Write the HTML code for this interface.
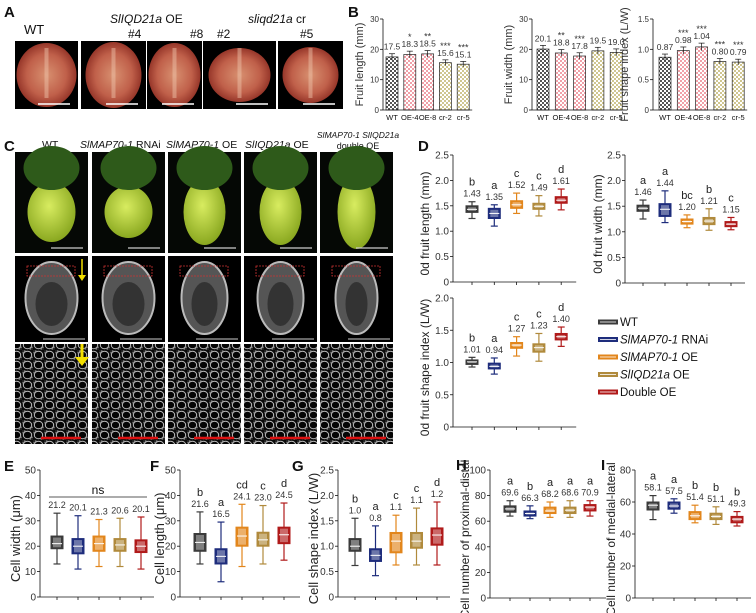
<!DOCTYPE html>
<html><head><meta charset="utf-8"><style>
html,body{margin:0;padding:0;background:#fff;}
svg{display:block;font-family:"Liberation Sans",sans-serif;}
</style></head><body>
<svg id="fig" width="756" height="613" viewBox="0 0 756 613" xmlns="http://www.w3.org/2000/svg">
<defs>
<pattern id="chkGray" width="4" height="4" patternUnits="userSpaceOnUse"><rect width="4" height="4" fill="#fff"/><rect width="2" height="2" fill="#555"/><rect x="2" y="2" width="2" height="2" fill="#555"/></pattern>
<pattern id="chkPink" width="4" height="4" patternUnits="userSpaceOnUse"><rect width="4" height="4" fill="#fff"/><rect width="2" height="2" fill="#f0a0a8"/><rect x="2" y="2" width="2" height="2" fill="#f0a0a8"/></pattern>
<pattern id="chkKhaki" width="4" height="4" patternUnits="userSpaceOnUse"><rect width="4" height="4" fill="#fff"/><rect width="2" height="2" fill="#cfc690"/><rect x="2" y="2" width="2" height="2" fill="#cfc690"/></pattern>
<radialGradient id="tom" cx="50%" cy="50%" r="55%"><stop offset="0" stop-color="#d89070"/><stop offset="0.6" stop-color="#c0604a"/><stop offset="1" stop-color="#8a2a20"/></radialGradient>
<radialGradient id="ovary" cx="45%" cy="40%" r="60%"><stop offset="0" stop-color="#d8ec60"/><stop offset="1" stop-color="#8aa820"/></radialGradient>
<pattern id="cells" width="11" height="10" patternUnits="userSpaceOnUse"><rect width="11" height="10" fill="#0a0a0a"/><ellipse cx="5.5" cy="5" rx="4.2" ry="3.8" fill="#050505" stroke="#bbb" stroke-width="1"/><ellipse cx="0" cy="0" rx="3" ry="3" fill="#222" stroke="#999" stroke-width="0.8"/><ellipse cx="11" cy="10" rx="3" ry="3" fill="#222" stroke="#999" stroke-width="0.8"/></pattern>
</defs>
<g id="root"></g>
</svg>
<script>
// ---------- Panel B data ----------
const bCats = ['WT','OE-4','OE-8','cr-2','cr-5'];
const bLength = [17.5, 18.3, 18.5, 15.6, 15.1];
const bLengthStars = ['', '*', '**', '***', '***'];
const bWidth = [20.1, 18.8, 17.8, 19.5, 19.0];
const bWidthStars = ['', '**', '***', '', ''];
const bShape = [0.87, 0.98, 1.04, 0.80, 0.79];
const bShapeStars = ['', '***', '***', '***', '***'];
const bTicks30 = [0, 10, 20, 30];
const bTicksShape = [0, 0.5, 1.0, 1.5];

// ---------- Box-plot data ----------
const groups = ['WT', 'SlMAP70-1 RNAi', 'SlMAP70-1 OE', 'SlIQD21a OE', 'Double OE'];
const d1Min = [1.25, 1.10, 1.35, 1.30, 1.42];
const d1Q1 = [1.37, 1.25, 1.45, 1.43, 1.55];
const d1Med = [1.43, 1.35, 1.52, 1.49, 1.61];
const d1Q3 = [1.50, 1.45, 1.60, 1.55, 1.68];
const d1Max = [1.58, 1.52, 1.75, 1.70, 1.83];
const d1Mean = ['1.43', '1.35', '1.52', '1.49', '1.61'];
const d1Let = ['b', 'a', 'c', 'c', 'd'];
const d2Min = [1.25, 1.18, 1.08, 1.03, 1.04];
const d2Q1 = [1.40, 1.30, 1.15, 1.14, 1.10];
const d2Med = [1.46, 1.44, 1.20, 1.21, 1.15];
const d2Q3 = [1.52, 1.55, 1.25, 1.28, 1.20];
const d2Max = [1.62, 1.80, 1.33, 1.45, 1.28];
const d2Mean = ['1.46', '1.44', '1.20', '1.21', '1.15'];
const d2Let = ['a', 'a', 'bc', 'b', 'c'];
const d3Min = [0.93, 0.82, 1.10, 1.02, 1.25];
const d3Q1 = [0.97, 0.90, 1.22, 1.16, 1.35];
const d3Med = [1.01, 0.94, 1.27, 1.23, 1.40];
const d3Q3 = [1.04, 0.99, 1.31, 1.29, 1.45];
const d3Max = [1.08, 1.07, 1.40, 1.45, 1.55];
const d3Mean = ['1.01', '0.94', '1.27', '1.23', '1.40'];
const d3Let = ['b', 'a', 'c', 'c', 'd'];
const eMin = [13, 11, 12, 12, 11];
const eQ1 = [19, 17, 18, 18, 17.5];
const eMed = [21, 20, 21, 20.5, 20];
const eQ3 = [24, 23, 24, 23, 22.5];
const eMax = [33, 32, 30.5, 31, 31.5];
const eMean = ['21.2', '20.1', '21.3', '20.6', '20.1'];
const eLet = ['', '', '', '', ''];
const fMin = [13, 6, 12, 13, 14.5];
const fQ1 = [18, 13, 20, 20, 21];
const fMed = [21.5, 16, 24, 22.5, 24.5];
const fQ3 = [25, 19, 27.5, 25.5, 27.5];
const fMax = [33.5, 29.5, 36.5, 36, 37];
const fMean = ['21.6', '16.5', '24.1', '23.0', '24.5'];
const fLet = ['b', 'a', 'cd', 'c', 'd'];
const gMin = [0.62, 0.42, 0.63, 0.63, 0.63];
const gQ1 = [0.90, 0.70, 0.87, 0.96, 1.02];
const gMed = [1.00, 0.82, 1.10, 1.10, 1.22];
const gQ3 = [1.15, 0.95, 1.27, 1.27, 1.36];
const gMax = [1.55, 1.40, 1.61, 1.75, 1.87];
const gMean = ['1.0', '0.8', '1.1', '1.1', '1.2'];
const gLet = ['b', 'a', 'c', 'c', 'd'];
const hMin = [64, 62, 63, 63, 64];
const hQ1 = [67, 64, 66, 66, 68];
const hMed = [69.6, 66, 68, 68.6, 71];
const hQ3 = [72, 68, 71, 71, 73];
const hMax = [76, 72, 75, 76, 76];
const hMean = ['69.6', '66.3', '68.2', '68.6', '70.9'];
const hLet = ['a', 'b', 'a', 'a', 'a'];
const iMin = [49, 53, 47, 46, 45];
const iQ1 = [55, 55.5, 49, 49, 47];
const iMed = [58, 57.5, 51.4, 51, 49.3];
const iQ3 = [60, 60, 54, 53, 51];
const iMax = [64, 62, 58, 57, 54];
const iMean = ['58.1', '57.5', '51.4', '51.1', '49.3'];
const iLet = ['a', 'a', 'b', 'b', 'b'];

const tick25 = [0, 0.5, 1.0, 1.5, 2.0, 2.5];
const tick20 = [0, 0.5, 1.0, 1.5, 2.0];
const tick50 = [0, 10, 20, 30, 40, 50];
const tick100 = [0, 20, 40, 60, 80, 100];
const tick80 = [0, 20, 40, 60, 80];

const NS = 'http://www.w3.org/2000/svg';
const root = document.getElementById('root');
const COLORS = ['#3b3b3b', '#1e2d7c', '#e2861c', '#b08a3c', '#b01a1a'];

function el(tag, attrs, parent, text) {
  const e = document.createElementNS(NS, tag);
  for (const k in attrs) e.setAttribute(k, attrs[k]);
  if (text !== undefined) e.textContent = text;
  (parent || root).appendChild(e);
  return e;
}
function txt(x, y, s, size, opts, parent) {
  const a = Object.assign({x: x, y: y, 'font-size': size, fill: '#111'}, opts || {});
  return el('text', a, parent, s);
}
function fmt(v) { return Number.isInteger(v) ? String(v) : v.toFixed(1); }

// ---------- panel A ----------
const A = el('g', {});


txt(4, 17, 'A', 15, {'font-weight': 'bold'}, A);
txt(24, 34, 'WT', 13, {}, A);
const aT1 = el('text', {x: 110, y: 23, 'font-size': 12, fill: '#111'}, A);
el('tspan', {'font-style': 'italic'}, aT1, 'SlIQD21a');
el('tspan', {}, aT1, ' OE');
txt(128, 38, '#4', 12, {}, A);
txt(190, 38, '#8', 12, {}, A);
const aT2 = el('text', {x: 248, y: 23, 'font-size': 12, fill: '#111'}, A);
el('tspan', {'font-style': 'italic'}, aT2, 'sliqd21a');
el('tspan', {}, aT2, '  cr');
txt(217, 38, '#2', 12, {}, A);
txt(300, 38, '#5', 12, {}, A);
const aBoxes = [[15, 63, 30, 32], [81, 65, 28, 33], [147, 55, 26, 32], [203, 73, 31, 27], [278, 65, 28, 28]];
aBoxes.forEach(function (b, i) {
  const g = el('g', {}, A);
  
  
  el('rect', {x: b[0], y: 41, width: b[1], height: 68, fill: '#000'}, g);
  el('ellipse', {cx: b[0] + b[1] / 2, cy: 75, rx: b[2], ry: b[3], fill: 'url(#tom)'}, g);
  el('rect', {x: b[0] + b[1] / 2 - 2, y: 48, width: 4, height: 50, fill: '#f0c8b0', opacity: 0.45}, g);
  el('line', {x1: b[0] + b[1] - 40, y1: 104, x2: b[0] + b[1] - 8, y2: 104, stroke: '#fff', 'stroke-width': 1.5}, g);
});

// ---------- panel C ----------
const C = el('g', {});


txt(4, 151, 'C', 15, {'font-weight': 'bold'}, C);
txt(42, 148, 'WT', 10.5, {}, C);
const cLab = [[80, 'SlMAP70-1', ' RNAi'], [166, 'SlMAP70-1', ' OE'], [245, 'SlIQD21a', ' OE']];
cLab.forEach(function (l) {
  const t = el('text', {x: l[0], y: 148, 'font-size': 10.5, fill: '#111'}, C);
  el('tspan', {'font-style': 'italic'}, t, l[1]);
  el('tspan', {}, t, l[2]);
});
txt(358, 138, 'SlMAP70-1 SlIQD21a', 8.5, {'font-style': 'italic', 'text-anchor': 'middle'}, C);
txt(358, 149, 'double OE', 9, {'text-anchor': 'middle'}, C);
const cCols = [15, 92, 168, 244, 320];
const cShapes = [[24, 30, 12], [24, 26, 6], [21, 33, 8], [21, 33, 8], [19, 37, 8]];
cCols.forEach(function (x, i) {
  const g = el('g', {}, C);
  
  
  const cx = x + 36.5, s = cShapes[i];
  el('rect', {x: x, y: 152, width: 73, height: 101, fill: '#050805'}, g);
  el('ellipse', {cx: cx, cy: 212, rx: s[0], ry: s[1], fill: 'url(#ovary)'}, g);
  el('ellipse', {cx: cx, cy: 168, rx: 28, ry: 22, fill: '#2e5a1a'}, g);
  el('line', {x1: x + 36, y1: 248, x2: x + 68, y2: 248, stroke: '#ccc', 'stroke-width': 1.3}, g);
  el('rect', {x: x, y: 256, width: 73, height: 86, fill: '#000'}, g);
  el('ellipse', {cx: cx, cy: 298, rx: s[0] + 2, ry: 36, fill: '#555', stroke: '#bbb', 'stroke-width': 2}, g);
  el('ellipse', {cx: cx, cy: 304, rx: s[0] - 8, ry: 22, fill: '#333'}, g);
  el('rect', {x: x + 12, y: 266, width: 48, height: 10, fill: 'none', stroke: '#c33', 'stroke-width': 0.8, 'stroke-dasharray': '2 1'}, g);
  el('line', {x1: x + 28, y1: 339, x2: x + 70, y2: 339, stroke: '#ccc', 'stroke-width': 1}, g);
  el('rect', {x: x, y: 344, width: 73, height: 100, fill: 'url(#cells)'}, g);
  el('line', {x1: x + 26, y1: 438, x2: x + 66, y2: 438, stroke: '#d11', 'stroke-width': 2.5}, g);
});
el('line', {x1: 82, y1: 259, x2: 82, y2: 275, stroke: '#f4e000', 'stroke-width': 1.5}, C);
el('polygon', {points: '78,275 86,275 82,281', fill: '#f4e000'}, C);
el('line', {x1: 82, y1: 344, x2: 82, y2: 358, stroke: '#f4e000', 'stroke-width': 3}, C);
el('polygon', {points: '75,357 89,357 82,366', fill: '#f4e000'}, C);

// ---------- bar charts ----------
function barChart(name, axisX, y0, yTop, vMax, ticks, vals, stars, off, step, ytitle, tx, decimals) {
  const g = el('g', {});
  
  
  const yS = function (v) { return y0 - v / vMax * (y0 - yTop); };
  const xS = function (i) { return axisX + off + i * step; };
  const fills = ['url(#chkGray)', 'url(#chkPink)', 'url(#chkPink)', 'url(#chkKhaki)', 'url(#chkKhaki)'];
  vals.forEach(function (v, i) {
    const bar = el('rect', {x: xS(i) - 6, y: yS(v), width: 12, height: y0 - yS(v), fill: fills[i], stroke: '#222', 'stroke-width': 0.7}, g);
    
    
    el('line', {x1: xS(i), y1: yS(v * 1.06), x2: xS(i), y2: yS(v * 0.94), stroke: '#111', 'stroke-width': 0.7}, g);
    el('line', {x1: xS(i) - 3, y1: yS(v * 1.06), x2: xS(i) + 3, y2: yS(v * 1.06), stroke: '#111', 'stroke-width': 0.7}, g);
    txt(xS(i), yS(v * 1.06) - 4, v.toFixed(decimals), 8.5, {'text-anchor': 'middle', fill: '#333'}, g);
    if (stars[i]) txt(xS(i), yS(v * 1.06) - 11, stars[i], 9, {'text-anchor': 'middle', fill: '#333'}, g);
    txt(xS(i), y0 + 10, bCats[i], 7.5, {'text-anchor': 'middle'}, g);
  });
  el('line', {x1: axisX, y1: yTop, x2: axisX, y2: y0, stroke: '#111', 'stroke-width': 0.8}, g);
  el('line', {x1: axisX, y1: y0, x2: xS(4) + 9, y2: y0, stroke: '#111', 'stroke-width': 0.8}, g);
  ticks.forEach(function (t) {
    el('line', {x1: axisX - 3, y1: yS(t), x2: axisX, y2: yS(t), stroke: '#111', 'stroke-width': 0.8}, g);
    txt(axisX - 4, yS(t) + 3, t === 0 ? '0' : (decimals === 2 ? t.toFixed(1) : fmt(t)), 8, {'text-anchor': 'end', fill: '#333'}, g);
  });
  const yc = (y0 + yTop) / 2;
  txt(tx, yc, ytitle, 11, {'text-anchor': 'middle', transform: 'rotate(-90 ' + tx + ' ' + yc + ')', fill: '#333'}, g);
}
txt(348, 17, 'B', 15, {'font-weight': 'bold'});
barChart('bar-chart-fruit-length', 383, 110, 19, 30, bTicks30, bLength, bLengthStars, 9, 17.8, 'Fruit length (mm)', 363, 1);
barChart('bar-chart-fruit-width', 532, 110, 19, 30, bTicks30, bWidth, bWidthStars, 11, 18.3, 'Fruit width (mm)', 512, 1);
barChart('bar-chart-fruit-shape', 653, 110, 19, 1.5, bTicksShape, bShape, bShapeStars, 12, 18.3, 'Fruit shape index (L/W)', 628, 2);

// ---------- box plots ----------
function boxChart(name, axisX, y0, yTop, vMax, ticks, mn, q1, md, q3, mx, means, lets, off, step, ytitle, tx, tsize, tickDec) {
  const g = el('g', {});
  
  
  const yS = function (v) { return y0 - v / vMax * (y0 - yTop); };
  const xS = function (i) { return axisX + off + i * step; };
  mn.forEach(function (v, i) {
    const c = COLORS[i], x = xS(i);
    const b = el('g', {}, g);
    
    
    el('line', {x1: x, y1: yS(mx[i]), x2: x, y2: yS(mn[i]), stroke: c, 'stroke-width': 1.2}, b);
    el('line', {x1: x - 3.5, y1: yS(mx[i]), x2: x + 3.5, y2: yS(mx[i]), stroke: c, 'stroke-width': 1.2}, b);
    el('line', {x1: x - 3.5, y1: yS(mn[i]), x2: x + 3.5, y2: yS(mn[i]), stroke: c, 'stroke-width': 1.2}, b);
    el('rect', {x: x - 6, y: yS(q3[i]), width: 12, height: Math.max(1, yS(q1[i]) - yS(q3[i])), fill: c, stroke: c, 'stroke-width': 1}, b);
    el('rect', {x: x - 4, y: yS(q3[i]) + 1.5, width: 8, height: Math.max(0, yS(q1[i]) - yS(q3[i]) - 3), fill: '#fff', opacity: 0.35}, b);
    el('line', {x1: x - 5, y1: yS(md[i]), x2: x + 5, y2: yS(md[i]), stroke: '#fff', 'stroke-width': 1}, b);
    txt(x, yS(mx[i]) - 5, means[i], 9, {'text-anchor': 'middle', fill: '#333'}, b);
    if (lets[i]) txt(x, yS(mx[i]) - 16, lets[i], 11, {'text-anchor': 'middle', fill: '#222'}, b);
    el('line', {x1: x, y1: y0, x2: x, y2: y0 + 3, stroke: '#111', 'stroke-width': 0.8}, g);
  });
  el('line', {x1: axisX, y1: yTop, x2: axisX, y2: y0, stroke: '#111', 'stroke-width': 0.8}, g);
  el('line', {x1: axisX, y1: y0, x2: xS(4) + off - 4, y2: y0, stroke: '#111', 'stroke-width': 0.8}, g);
  ticks.forEach(function (t) {
    el('line', {x1: axisX - 3, y1: yS(t), x2: axisX, y2: yS(t), stroke: '#111', 'stroke-width': 0.8}, g);
    txt(axisX - 4, yS(t) + 3.5, t === 0 ? '0' : t.toFixed(tickDec), 10, {'text-anchor': 'end', fill: '#333'}, g);
  });
  const yc = (y0 + yTop) / 2 + 5;
  txt(tx, yc, ytitle, tsize, {'text-anchor': 'middle', transform: 'rotate(-90 ' + tx + ' ' + yc + ')', fill: '#222'}, g);
}
txt(418, 151, 'D', 15, {'font-weight': 'bold'});
boxChart('box-chart-0d-length', 453, 282, 155, 2.5, tick25, d1Min, d1Q1, d1Med, d1Q3, d1Max, d1Mean, d1Let, 19, 22.3, '0d fruit length (mm)', 429, 12, 1);
boxChart('box-chart-0d-width', 625, 283, 155, 2.5, tick25, d2Min, d2Q1, d2Med, d2Q3, d2Max, d2Mean, d2Let, 18, 22, '0d fruit width (mm)', 602, 12, 1);
boxChart('box-chart-0d-shape', 453, 427, 298, 2.0, tick20, d3Min, d3Q1, d3Med, d3Q3, d3Max, d3Mean, d3Let, 19, 22.3, '0d fruit shape index (L/W)', 429, 12, 1);

txt(4, 471, 'E', 15, {'font-weight': 'bold'});
boxChart('box-chart-cell-width', 40, 597, 470, 50, tick50, eMin, eQ1, eMed, eQ3, eMax, eMean, eLet, 17, 21, 'Cell width (μm)', 20, 13, 0);
el('line', {x1: 49, y1: 497, x2: 147, y2: 497, stroke: '#222', 'stroke-width': 0.8});
txt(98, 494, 'ns', 12, {'text-anchor': 'middle'});
txt(150, 471, 'F', 15, {'font-weight': 'bold'});
boxChart('box-chart-cell-length', 180, 597, 470, 50, tick50, fMin, fQ1, fMed, fQ3, fMax, fMean, fLet, 20, 21, 'Cell length (μm)', 164, 13, 0);
txt(292, 471, 'G', 15, {'font-weight': 'bold'});
boxChart('box-chart-cell-shape', 338, 597, 470, 2.5, tick25, gMin, gQ1, gMed, gQ3, gMax, gMean, gLet, 17, 20.5, 'Cell shape index (L/W)', 318, 13, 1);
txt(456, 470, 'H', 15, {'font-weight': 'bold'});
boxChart('box-chart-proximal-distal', 490, 598, 470, 100, tick100, hMin, hQ1, hMed, hQ3, hMax, hMean, hLet, 20, 20, 'Cell number of proximal-distal', 469, 12, 0);
txt(601, 470, 'I', 15, {'font-weight': 'bold'});
boxChart('box-chart-medial-lateral', 635, 598, 470, 80, tick80, iMin, iQ1, iMed, iQ3, iMax, iMean, iLet, 18, 21, 'Cell number of medial-lateral', 615, 12, 0);

// ---------- legend ----------
const L = el('g', {});


const legIt = [['WT', ''], ['SlMAP70-1', ' RNAi'], ['SlMAP70-1', ' OE'], ['SlIQD21a', ' OE'], ['Double OE', '']];
legIt.forEach(function (it, i) {
  const y = 322 + i * 17.5;
  const e = el('g', {}, L);
  
  
  el('rect', {x: 598, y: y - 2.5, width: 20, height: 5, fill: COLORS[i]}, e);
  el('line', {x1: 600, y1: y, x2: 616, y2: y, stroke: '#fff', 'stroke-width': 0.8}, e);
  const t = el('text', {x: 620, y: y + 4, 'font-size': 11.5, fill: '#111'}, e);
  el('tspan', {'font-style': (i > 0 && i < 4) ? 'italic' : 'normal'}, t, it[0]);
  if (it[1]) el('tspan', {}, t, it[1]);
});
</script>
</body></html>
